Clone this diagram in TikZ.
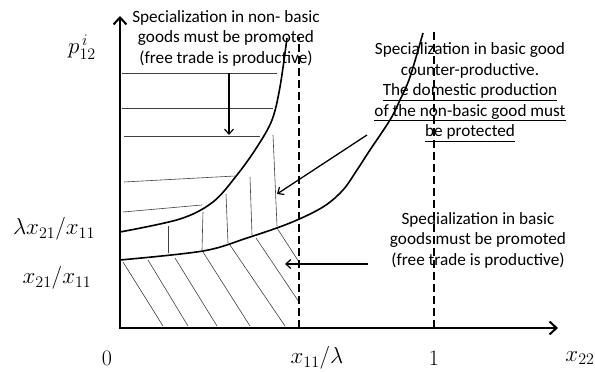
\RequirePackage{fix-cm}
\documentclass[tikz,border=0pt]{standalone}
\usepackage{fontspec}
\setmainfont{Carlito}
\usetikzlibrary{arrows.meta}

\begin{document}
\begin{tikzpicture}[
x=1pt, y=1pt,
axis/.style={line width=2.2pt, {Straight Barb[length=7pt,width=13pt,line width=2pt]}-{Straight Barb[length=7pt,width=13pt,line width=2pt]}},
curve/.style={line width=1.6pt, smooth, tension=0.55},
bound/.style={line width=1.9pt, dash pattern=on 8pt off 4pt},
hatch/.style={line width=0.6pt, black!75},
pointer/.style={line width=1.3pt, -{Straight Barb[length=5pt,width=9pt,line width=1.2pt]}},
note/.style={font=\fontsize{17.2}{20.5}\selectfont, align=center, inner sep=0pt},
lbl/.style={font=\fontsize{23}{26}\selectfont, inner sep=0pt},
tick/.style={font=\fontsize{22}{26}\selectfont, inner sep=0pt}
]
\useasboundingbox (0,0) rectangle (595,372);

\coordinate (O) at (120,44);
\coordinate (ytop) at (120,356);
\coordinate (xend) at (558,44);
\coordinate (kinktop) at (299,334);
\coordinate (kinkbase) at (299,44);
\coordinate (onetop) at (434,343);
\coordinate (onebase) at (434,44);

\node[lbl] (plabel) at (82,325) {$p^{\,i}_{12}$};
\node[lbl] (lamlabel) at (54,143) {$\lambda x_{21}/x_{11}$};
\node[lbl] (ratiolabel) at (57,94) {$x_{21}/x_{11}$};
\node[tick] (zero) at (107,14) {$0$};
\node[lbl] (kinklabel) at (317,14) {$x_{11}/\lambda$};
\node[tick] (onelabel) at (434,14) {$1$};
\node[lbl] (xlabel) at (580,14) {$x_{22}$};

\node[note] (promoteNB) at (226,334) {Specialization in non- basic\\goods must be promoted\\(free trade is productive)};
\node[note] (protect) at (470,280) {Specialization in basic good\\counter-productive.\\\underline{The domestic production}\\\underline{of the non-basic good must}\\\underline{be protected}};
\node[note] (promoteB) at (478,132) {Spedialization in basic\\goods must be promoted\\(free trade is productive)};

\foreach \xa/\ya/\xb/\yb in {122/299/277/299, 122/264/273/264, 124/236/260/236, 124/190/235/196, 123/160/202/167}
  \draw[hatch] (\xa,\ya) -- (\xb,\yb);
\foreach \xa/\ya/\xb/\yb in {168/146/168/119, 203/160/202/122, 226/178/228/129, 250/195/252/137, 273/237/277/146}
  \draw[hatch] (\xa,\ya) -- (\xb,\yb);
\foreach \xa/\ya/\xb/\yb in {123/110/163/46, 148/112/188/46, 175/114/217/46, 203/120/250/46, 230/127/285/46, 256/134/299/70, 277/144/299/110}
  \draw[hatch] (\xa,\ya) -- (\xb,\yb);

\draw[bound] (kinkbase) -- (kinktop);
\draw[bound] (onebase) -- (onetop);

\draw[curve] plot coordinates {(120,140) (180,153) (213,170) (237,197) (257,225) (272,252) (280,285) (287,334)};
\draw[curve] plot coordinates {(120,112) (203,121) (247,134) (290,149) (323,165) (343,182) (357,202) (370,222) (390,252) (400,272) (410,295) (423,339)};

\draw[axis] (ytop) -- (O) -- (xend);

\coordinate (downfrom) at (229,299);
\coordinate (downto) at (229,237);
\coordinate (midfrom) at (367,237);
\coordinate (midto) at (277,178);
\coordinate (lowfrom) at (368,108);
\coordinate (lowto) at (285,108);
\draw[pointer] (downfrom) -- (downto);
\draw[pointer] (midfrom) -- (midto);
\draw[pointer] (lowfrom) -- (lowto);
\end{tikzpicture}
\end{document}
